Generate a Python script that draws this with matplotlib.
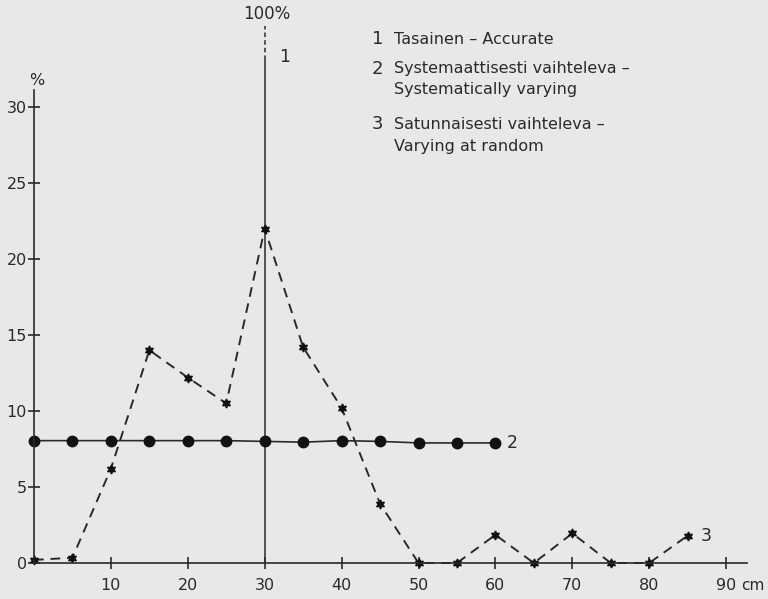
import matplotlib
matplotlib.use("Agg")
import matplotlib.pyplot as plt

# Data
x_ticks = [10, 20, 30, 40, 50, 60, 70, 80, 90]
x_tick_labels = ["10", "20", "30", "40", "50", "60", "70", "80", "90"]
y_ticks = [0, 5, 10, 15, 20, 25, 30]
y_tick_labels = ["0", "5", "10", "15", "20", "25", "30"]

# Series 2: systematically varying (dots)
x2 = [0, 5, 10, 15, 20, 25, 30, 35, 40, 45, 50, 55, 60]
y2 = [8.05, 8.05, 8.05, 8.05, 8.05, 8.05, 8.0, 7.95, 8.05, 8.0, 7.9, 7.9, 7.9]

# Series 3: varying at random (stars, dashed)
x3 = [0, 5, 10, 15, 20, 25, 30, 35, 40, 45, 50, 55, 60, 65, 70, 75, 80, 85]
y3 = [0.2, 0.35, 6.2, 14.0, 12.2, 10.5, 22.0, 14.2, 10.2, 3.9, 0, 0, 1.85, 0, 1.95, 0, 0, 1.8]

# Series 1: accurate (vertical line at 30 cm, 100 %)
x1 = 30
y1_solid_top = 33.1
y1_dash_top = 35.3

legend_lines = [
    ("1", ["Tasainen \u2013 Accurate"]),
    ("2", ["Systemaattisesti vaihteleva \u2013", "Systematically varying"]),
    ("3", ["Satunnaisesti vaihteleva \u2013", "Varying at random"]),
]

bg = "#e8e8e6"
ink = "#2a2a2a"

fig = plt.figure(figsize=(7.68, 5.99), dpi=100, facecolor=bg)
ax = fig.add_axes([0, 0, 1, 1], facecolor=bg)

px_per_x = 7.69
px_per_y = 15.2
x0_px, y0_px = 34, 563
ax.set_xlim(-x0_px / px_per_x, (768 - x0_px) / px_per_x)
ax.set_ylim(-(599 - y0_px) / px_per_y, y0_px / px_per_y)

for s in ["top", "right"]:
    ax.spines[s].set_visible(False)
ax.spines["left"].set_position(("data", 0))
ax.spines["bottom"].set_position(("data", 0))
ax.spines["left"].set_bounds(0, 31.1)
ax.spines["bottom"].set_bounds(0, 92.7)
for s in ["left", "bottom"]:
    ax.spines[s].set_color(ink)
    ax.spines[s].set_linewidth(1.2)

ax.set_xticks(x_ticks)
ax.set_xticklabels(x_tick_labels)
ax.set_yticks(y_ticks)
ax.set_yticklabels(y_tick_labels)
ax.tick_params(axis="both", direction="inout", length=9, width=1.2, colors=ink,
               labelsize=11.5)
ax.tick_params(axis="y", pad=0.5)
ax.tick_params(axis="x", pad=6)
for lbl in ax.get_xticklabels() + ax.get_yticklabels():
    lbl.set_color(ink)

# Series 1 vertical line
ax.plot([x1, x1], [0, y1_solid_top], color=ink, lw=1.1, solid_capstyle="butt")
ax.plot([x1, x1], [y1_solid_top, y1_dash_top], color=ink, lw=1.1,
        linestyle=(0, (3, 2)))
ax.text(x1 + 0.3, y1_dash_top + 0.2, "100%", ha="center", va="bottom",
        fontsize=12, color=ink)
ax.text(x1 + 2.6, 33.3, "1", ha="center", va="center", fontsize=12.5, color=ink)

# Series 2
ax.plot(x2, y2, color=ink, lw=1.2, marker="o", markersize=7.5,
        markerfacecolor="#111111", markeredgecolor="#111111")
ax.text(x2[-1] + 2.2, y2[-1], "2", ha="center", va="center", fontsize=12.5, color=ink)

# Series 3
ax.plot(x3, y3, color=ink, lw=1.4, linestyle=(0, (5, 3.5)),
        marker=(6, 1, 0), markersize=6.5, markerfacecolor="#111111",
        markeredgecolor="#111111")
ax.text(x3[-1] + 2.4, y3[-1], "3", ha="center", va="center", fontsize=12.5, color=ink)

# axis unit labels
ax.text(0.4, 31.75, "%", ha="center", va="center", fontsize=11.5, color=ink)
ax.text(92.0, -1.45, "cm", ha="left", va="center", fontsize=11, color=ink)

# legend text block (in pixel-derived data coords)
def py_to_y(py):
    return (y0_px - py) / px_per_y

def px_to_x(px):
    return (px - x0_px) / px_per_x

rows = [(39, [39]), (69, [69, 89]), (124, [124, 146])]
for (num, texts), (ny, lys) in zip(legend_lines, rows):
    ax.text(px_to_x(372), py_to_y(ny), num, ha="left", va="center",
            fontsize=13, color=ink)
    for t, ly in zip(texts, lys):
        ax.text(px_to_x(394), py_to_y(ly), t, ha="left", va="center",
                fontsize=11.5, color=ink)

fig.savefig("out.png", dpi=100, facecolor=bg)
